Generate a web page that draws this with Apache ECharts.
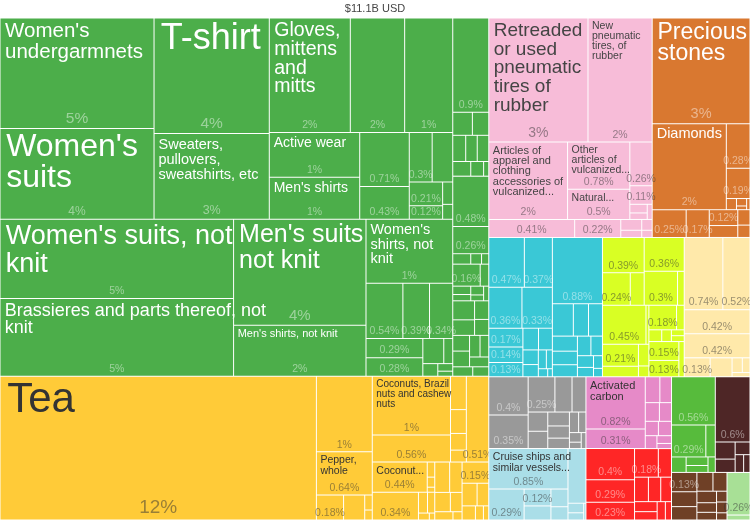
<!DOCTYPE html>
<html>
<head>
<meta charset="utf-8">
<title>Export treemap</title>
<script src="https://cdn.jsdelivr.net/npm/echarts@6/dist/echarts.min.js"></script>
<style>
html, body { margin: 0; padding: 0; background: #ffffff; }
#chart { width: 750px; height: 520px; }
</style>
</head>
<body>
<div id="chart"></div>
<script>
// ================= DATA (shares of total exports, %) =================
const totalLabel = '$11.1B USD';

// ---- Textiles ----
const knitApparel = [
  ["Women's undergarmnets", 4.51], ["Women's suits", 3.71], ["T-shirt", 3.53],
  ["Sweaters, pullovers, sweatshirts, etc", 2.62], ["Gloves, mittens and mitts", 2.46],
  ["Babies' garments", 1.65], ["Women's shirts", 1.46], ["Active wear", 1.07], ["Men's shirts", 1.01],
  ["Men's undergarments", 0.71], ["Socks and hosiery", 0.43], ["Knit men's suits", 0.30],
  ["Knit women's coats", 0.27], ["Knit sports garments", 0.21], ["Knit clothing accessories", 0.12],
  ["Knit men's coats", 0.06], ["Other knit garments", 0.04]
];
const nonKnitApparel = [
  ["Women's suits, not knit", 4.91], ["Brassieres and parts thereof, not knit", 4.81],
  ["Men's suits, not knit", 3.72], ["Men's shirts, not knit", 1.79], ["Women's shirts, not knit", 1.47],
  ["Women's undergarments, not knit", 0.54], ["Men's coats, not knit", 0.39], ["Women's coats, not knit", 0.34],
  ["Babies' garments, not knit", 0.29], ["Other garments, not knit", 0.28], ["Men's undergarments, not knit", 0.14],
  ["Handkerchiefs", 0.06], ["Shawls and scarves", 0.05], ["Ties", 0.03], ["Other clothing accessories", 0.02]
];
const madeUpTextiles = [["House linens", 0.90], ["Other made up articles", 0.12], ["Tarpaulins and tents", 0.10], ["Blankets", 0.09], ["Used clothing", 0.08], ["Curtains", 0.08], ["Sacks and bags", 0.07], ["Bed linen", 0.05], ["Dust cloths", 0.02]];
const knitFabrics = [["Knit fabric", 0.48], ["Light rubberized knitted fabric", 0.26], ["Warp knit fabric", 0.05], ["Other knit fabric", 0.03], ["Narrow knit fabric", 0.02]];
const pileFabrics = [["Pile fabric", 0.16], ["Terry fabric", 0.05], ["Tulle", 0.04], ["Knitted lace", 0.03], ["Velvet", 0.03], ["Chenille", 0.02], ["Gauze", 0.02]];
const fabricsAndYarn = [["Woven cotton fabric", 0.11], ["Cotton yarn", 0.09], ["Labels", 0.07], ["Narrow woven fabric", 0.06]];
const specialFabrics = [["Synthetic woven fabric", 0.07], ["Non-woven textiles", 0.07], ["Elastic fabric", 0.06], ["Coated textile fabric", 0.05], ["Embroidery", 0.05]];
const yarns = [["Synthetic filament yarn", 0.05], ["Felt", 0.04]];

// ---- Vegetable products ----
const spices = [["Tea", 12.06], ["Cinnamon", 1.12], ["Pepper, whole", 0.64], ["Cloves", 0.18], ["Nutmeg, mace and cardamoms", 0.14], ["Coffee", 0.03], ["Ginger", 0.02]];
const fruitsAndNuts = [["Coconuts, Brazil nuts and cashew nuts", 1.22], ["Tropical fruits", 0.56], ["Bananas", 0.14], ["Citrus", 0.10], ["Other nuts", 0.07], ["Other fruits", 0.05]];
const saps = [["Vegetable saps and extracts", 0.51]];
const plantFibres = [["Coconut and other vegetable fibers", 0.44], ["Bamboo", 0.03], ["Rattans", 0.02], ["Vegetable hair", 0.01]];
const liveTrees = [["Cut flowers", 0.34], ["Live plants", 0.05], ["Foliage", 0.04], ["Bulbs", 0.02], ["Seeds for sowing", 0.01]];
const otherVegetables = [["Vegetable products n.e.c.", 0.15], ["Roots and tubers", 0.09], ["Leguminous vegetables", 0.07], ["Other vegetables", 0.05], ["Dried vegetables", 0.03], ["Onions", 0.02]];
const cerealsAndSeeds = [["Rice", 0.12], ["Medicinal plants", 0.10], ["Oil seeds", 0.08], ["Flours", 0.06], ["Malt", 0.04], ["Starches", 0.02]];

// ---- Plastics and rubbers ----
const rubberGoods = [["Retreaded or used pneumatic tires of rubber", 3.26], ["New pneumatic tires, of rubber", 2.11], ["Articles of apparel and clothing accessories of vulcanized rubber", 1.62], ["Other articles of vulcanized rubber", 0.78], ["Natural rubber, balata and gutta-percha", 0.50], ["Rubber belts", 0.26], ["Rubber tubes", 0.11], ["Rubber sheets", 0.04], ["Rubber thread", 0.03], ["Inner tubes", 0.02]];
const plasticGoods = [["Plastic housewares", 0.41], ["Plastic lids", 0.22], ["Other plastic products", 0.06], ["Plastic pipes", 0.04], ["Plastic sheets", 0.03], ["Plastic floor coverings", 0.02]];

// ---- Precious metals ----
const preciousStones = [["Precious stones", 2.74]];
const diamondsAndJewellery = [["Diamonds", 1.69], ["Jewellery", 0.28], ["Imitation jewellery", 0.19], ["Gold", 0.03], ["Silver", 0.02], ["Pearls", 0.01], ["Platinum", 0.01]];
const otherPrecious = [["Synthetic precious stones", 0.25], ["Precious metal scraps", 0.17], ["Gold or silversmiths' wares", 0.12], ["Other precious stone articles", 0.09], ["Coin", 0.05], ["Precious metal compounds", 0.04]];

// ---- Machines ----
const electricalGoods = [["Insulated wire", 0.47], ["Electric motors", 0.37], ["Electrical transformers", 0.36], ["Low-voltage protection equipment", 0.33], ["Electrical control boards", 0.17], ["Electric filament", 0.14], ["Integrated circuits", 0.13], ["Batteries", 0.09], ["Electric heaters", 0.08], ["Printed circuit boards", 0.06], ["Electrical parts", 0.05], ["Telephones", 0.04], ["Capacitors", 0.03], ["Resistors", 0.02], ["Lighting fixtures", 0.01]];
const machinery = [["Industrial machinery", 0.88], ["Machinery parts", 0.18], ["Pumps", 0.13], ["Valves", 0.12], ["Air pumps", 0.10], ["Centrifuges", 0.09], ["Sewing machines", 0.08], ["Office machine parts", 0.07], ["Computers", 0.06], ["Ball bearings", 0.05], ["Textile machinery", 0.04], ["Engine parts", 0.03], ["Transmissions", 0.02]];

// ---- Paper goods ----
const paperA = [["Paper labels", 0.39], ["Paper containers", 0.24], ["Cartons", 0.12]];
const paperB = [["Printed materials", 0.36], ["Paper notebooks", 0.30], ["Wallpaper", 0.06]];
const paperC = [["Toilet paper", 0.45], ["Coated paper", 0.03]];
const paperE = [["Uncoated paper", 0.21], ["Paper pulp", 0.10], ["Paper trays", 0.06], ["Filter paper", 0.03]];
const paperD = [["Recovered paper", 0.18], ["Paper envelopes", 0.05], ["Calendars", 0.04], ["Postcards", 0.03], ["Maps", 0.02], ["Newspapers", 0.02]];
const woodG = [["Wood articles", 0.15], ["Wooden frames", 0.13], ["Plywood", 0.05]];

// ---- Foodstuffs ----
const foodTop = [["Animal feed", 0.74], ["Coconut oil", 0.52]];
const foodPair = [["Other edible preparations", 0.42], ["Non-alcoholic beverages", 0.42]];
const foodSmall = [["Fruit juice", 0.13], ["Tobacco", 0.11], ["Sauces", 0.04], ["Baked goods", 0.03], ["Vinegar", 0.02]];

// ---- Transportation ----
const cruiseShips = [["Cruise ships and similar vessels", 0.85]];
const boatsEtc = [["Boats", 0.29], ["Bicycles", 0.12], ["Trailers", 0.10], ["Aircraft parts", 0.08], ["Motorcycles", 0.06]];
const vehiclesEtc = [["Vehicle parts", 0.26], ["Tugs", 0.04], ["Tractors", 0.03], ["Railway parts", 0.01]];

// ---- Other sections ----
const metalGoods = [["Copper wire", 0.40], ["Aluminium structures", 0.35], ["Iron structures", 0.25], ["Scrap copper", 0.16], ["Scrap aluminium", 0.13], ["Hand tools", 0.10], ["Iron pipes", 0.09], ["Metal fasteners", 0.08], ["Scrap iron", 0.07], ["Metal mountings", 0.06], ["Aluminium foil", 0.05], ["Knives", 0.04], ["Locks", 0.03], ["Iron wire", 0.02], ["Nails", 0.02]];
const chemicalGoods = [["Activated carbon", 0.82], ["Essential oils", 0.31], ["Medicaments", 0.10], ["Soap", 0.08], ["Paints", 0.07], ["Perfumes", 0.06], ["Beauty products", 0.05], ["Glues", 0.05], ["Pesticides", 0.04], ["Inks", 0.03], ["Fertilizers", 0.02]];
const instrumentGoods = [["Medical instruments", 0.40], ["Orthopedic appliances", 0.29], ["Optical fibers", 0.23], ["Lenses", 0.18], ["Electrical meters", 0.10], ["Thermostats", 0.09], ["Measuring instruments", 0.08], ["Watches", 0.07], ["Spectacles", 0.06], ["X-ray equipment", 0.05], ["Clocks", 0.04], ["Gauges", 0.03]];
const animalGoods = [["Crustaceans", 0.56], ["Fish fillets", 0.29], ["Non-fillet fresh fish", 0.08], ["Molluscs", 0.06], ["Dried fish", 0.05], ["Eggs", 0.04], ["Milk", 0.03]];
const mineralGoods = [["Refined petroleum", 0.60], ["Graphite", 0.09], ["Ilmenite", 0.07], ["Quartz", 0.05], ["Mica", 0.04], ["Salt", 0.03]];
const hideGoods = [["Handbags", 0.13], ["Leather articles", 0.10], ["Saddlery", 0.09], ["Tanned leather", 0.08], ["Raw hides", 0.07], ["Leather apparel", 0.06], ["Furskins", 0.05], ["Travel goods", 0.04], ["Watch straps", 0.03], ["Leather belts", 0.03], ["Leather scraps", 0.02]];
const footwearGoods = [["Footwear", 0.26], ["Hats", 0.03]];

// ---- Hierarchy: section -> chapter -> product ----
const textiles = [["Knit apparel", knitApparel], ["Non-knit apparel", nonKnitApparel], ["Other made up textiles", madeUpTextiles], ["Knit fabrics", knitFabrics], ["Pile fabrics", pileFabrics], ["Fabrics and yarn", fabricsAndYarn], ["Special fabrics", specialFabrics], ["Yarns", yarns]];
const vegetableProducts = [["Coffee, tea and spices", spices], ["Fruits and nuts", fruitsAndNuts], ["Saps and extracts", saps], ["Plaiting materials", plantFibres], ["Live trees and plants", liveTrees], ["Vegetables", otherVegetables], ["Cereals and seeds", cerealsAndSeeds]];
const plasticsAndRubbers = [["Rubber", rubberGoods], ["Plastics", plasticGoods]];
const preciousMetals = [["Stones", preciousStones], ["Diamonds and jewellery", diamondsAndJewellery], ["Other precious goods", otherPrecious]];
const machines = [["Electrical machinery", electricalGoods], ["Machinery", machinery]];
const paperGoods = [["Paper A", paperA], ["Paper B", paperB], ["Paper C", paperC], ["Paper E", paperE], ["Paper D", paperD], ["Wood G", woodG]];
const foodstuffs = [["Food top", foodTop], ["Food bottom", [["Food pair", foodPair], ["Food small", foodSmall]]]];
const transportation = [["Ships and boats", [["Cruise ships", cruiseShips], ["Boats and cycles", boatsEtc]]], ["Vehicles", vehiclesEtc]];

const sections = [
  ["Textiles", textiles], ["Vegetable Products", vegetableProducts], ["Plastics and Rubbers", plasticsAndRubbers],
  ["Precious Metals", preciousMetals], ["Machines", machines], ["Paper Goods", paperGoods], ["Foodstuffs", foodstuffs],
  ["Metals", metalGoods], ["Transportation", transportation], ["Chemical Products", chemicalGoods],
  ["Instruments", instrumentGoods], ["Animal Products", animalGoods], ["Mineral Products", mineralGoods],
  ["Animal Hides", hideGoods], ["Footwear and Headwear", footwearGoods]
];

// ================= STYLES =================
const FONT = '"Liberation Sans", Arial, Helvetica, sans-serif';
const LIGHT_PCT = 'rgba(255,255,255,0.45)';
const DARK_PCT = 'rgba(51,51,51,0.5)';
// [fill, name colour, share colour]
const sectionStyle = {
  "Textiles": ['#4cae4a', '#ffffff', LIGHT_PCT],
  "Vegetable Products": ['#ffcb38', '#333333', DARK_PCT],
  "Plastics and Rubbers": ['#f7bcd8', '#444444', DARK_PCT],
  "Precious Metals": ['#d97830', '#ffffff', LIGHT_PCT],
  "Machines": ['#3ac8d6', '#ffffff', LIGHT_PCT],
  "Paper Goods": ['#d9ff24', '#333333', DARK_PCT],
  "Foodstuffs": ['#ffe9aa', '#333333', DARK_PCT],
  "Metals": ['#999999', '#ffffff', LIGHT_PCT],
  "Transportation": ['#aadee8', '#333333', DARK_PCT],
  "Chemical Products": ['#e68ac8', '#333333', DARK_PCT],
  "Instruments": ['#ff2626', '#ffffff', LIGHT_PCT],
  "Animal Products": ['#57bb3c', '#ffffff', LIGHT_PCT],
  "Mineral Products": ['#4e2626', '#ffffff', LIGHT_PCT],
  "Animal Hides": ['#6f4026', '#ffffff', LIGHT_PCT],
  "Footwear and Headwear": ['#a8e096', '#333333', DARK_PCT]
};
// name label: [displayed text, font size, line height]
const nameLabels = {
  "Women's undergarmnets": ["Women's\nundergarmnets", 20.5, 20.5],
  "Women's suits": ["Women's\nsuits", 32, 31],
  "T-shirt": ["T-shirt", 36, 36],
  "Sweaters, pullovers, sweatshirts, etc": ["Sweaters,\npullovers,\nsweatshirts, etc", 14.5, 15],
  "Gloves, mittens and mitts": ["Gloves,\nmittens\nand\nmitts", 19.5, 18.7],
  "Active wear": ["Active wear", 14, 14],
  "Men's shirts": ["Men's shirts", 14, 14],
  "Women's suits, not knit": ["Women's suits, not\nknit", 27, 28],
  "Brassieres and parts thereof, not knit": ["Brassieres and parts thereof, not\nknit", 18, 17.3],
  "Men's suits, not knit": ["Men's suits\nnot knit", 25, 25.5],
  "Men's shirts, not knit": ["Men's shirts, not knit", 11, 11],
  "Women's shirts, not knit": ["Women's\nshirts, not\nknit", 14.5, 14.5],
  "Tea": ["Tea", 42, 42],
  "Coconuts, Brazil nuts and cashew nuts": ["Coconuts, Brazil\nnuts and cashew\nnuts", 10, 9.7],
  "Coconut and other vegetable fibers": ["Coconut...", 10.5, 10.5],
  "Pepper, whole": ["Pepper,\nwhole", 10.5, 10.5],
  "Retreaded or used pneumatic tires of rubber": ["Retreaded\nor used\npneumatic\ntires of\nrubber", 19, 18.7],
  "New pneumatic tires, of rubber": ["New\npneumatic\ntires, of\nrubber", 10.5, 10],
  "Articles of apparel and clothing accessories of vulcanized rubber": ["Articles of\napparel and\nclothing\naccessories of\nvulcanized...", 11, 10.4],
  "Other articles of vulcanized rubber": ["Other\narticles of\nvulcanized...", 10.5, 10],
  "Natural rubber, balata and gutta-percha": ["Natural...", 10.5, 10.5],
  "Precious stones": ["Precious\nstones", 23, 21.7],
  "Diamonds": ["Diamonds", 14.5, 14.5],
  "Activated carbon": ["Activated\ncarbon", 11, 11],
  "Cruise ships and similar vessels": ["Cruise ships and\nsimilar vessels...", 10.5, 10.5]
};
const pctSizes = {
  "Women's undergarmnets": 15.5, "T-shirt": 15.5, "Women's suits": 12,
  "Sweaters, pullovers, sweatshirts, etc": 12.5, "Tea": 19, "Men's suits, not knit": 15,
  "Retreaded or used pneumatic tires of rubber": 14, "Precious stones": 14.5
};

// ================= BUILD =================
function sumLeaves(list) {
  return list.reduce((s, e) => s + (typeof e[1] === 'number' ? e[1] : sumLeaves(e[1])), 0);
}
const TOTAL = sections.reduce((s, sec) => s + sumLeaves(sec[1]), 0);

function pctValue(v) { return v / TOTAL * 100; }
function pctText(v) {
  const p = pctValue(v);
  return p >= 1 ? Math.round(p) + '%' : parseFloat(p.toFixed(2)) + '%';
}

let keyCounter = 0;
function buildNode(entry, sec, mode, sizes) {
  const name = entry[0], v = entry[1];
  const st = sectionStyle[sec];
  if (typeof v === 'number') {
    const key = 'k' + (keyCounter++);
    const item = { name: name, value: v, key: key };
    if (mode === 'cells') {
      item.itemStyle = { borderWidth: 0.5, borderColor: '#ffffff' };
      const nl = nameLabels[name];
      if (nl) {
        const fs = nl[1];
        item.label = {
          show: true, position: 'insideTopLeft', distance: 0, formatter: nl[0],
          fontSize: fs, lineHeight: nl[2], color: st[1], fontFamily: FONT,
          padding: [3, 0, 0, 2.5 + fs * 0.1], overflow: 'none'
        };
      } else {
        item.label = { show: false };
      }
    } else {
      const lay = sizes ? sizes[key] : null;
      const fs = pctSizes[name] || 10.5;
      const show = !!lay && lay.width >= 22 && lay.height >= 12 && pctValue(v) >= 0.105;
      item.label = {
        show: show, position: 'insideBottom', distance: 1 + fs * 0.08, formatter: pctText(v),
        fontSize: fs, lineHeight: fs, color: st[2], fontFamily: FONT, padding: 0, overflow: 'none'
      };
    }
    return item;
  }
  return { name: name, children: v.map(e => buildNode(e, sec, mode, sizes)) };
}

function buildData(mode, sizes) {
  keyCounter = 0;
  return sections.map(sec => {
    const node = buildNode(sec, sec[0], mode, sizes);
    if (mode === 'cells') node.itemStyle = { color: sectionStyle[sec[0]][0] };
    return node;
  });
}

function baseSeries() {
  return {
    type: 'treemap', left: 0, top: 18, width: 750, height: 502,
    roam: false, nodeClick: false, breadcrumb: { show: false },
    sort: 'desc', squareRatio: 0.5 * (1 + Math.sqrt(5)), visibleMin: 1,
    silent: true, animation: false,
    upperLabel: { show: false }, label: { show: false },
    emphasis: { disabled: true }
  };
}

function makeOption(sizes) {
  const cells = Object.assign(baseSeries(), {
    itemStyle: { borderWidth: 0, gapWidth: 0, borderColor: '#ffffff' },
    data: buildData('cells', null)
  });
  const shares = Object.assign(baseSeries(), {
    color: ['rgba(0,0,0,0)'],
    itemStyle: { color: 'rgba(0,0,0,0)', borderWidth: 0, gapWidth: 0, borderColor: 'rgba(0,0,0,0)' },
    data: buildData('shares', sizes)
  });
  return {
    animation: false,
    backgroundColor: '#ffffff',
    title: {
      text: totalLabel, left: 'center', top: 0, padding: [3, 0, 0, 0],
      textStyle: { fontSize: 11, fontWeight: 'normal', color: '#444444', fontFamily: FONT }
    },
    series: [cells, shares]
  };
}

const chart = echarts.init(document.getElementById('chart'), null, { renderer: 'canvas' });
chart.setOption(makeOption(null));

// read the layout computed by the library to decide which cells can hold a share label
const sizes = {};
try {
  const tree = chart.getModel().getSeriesByIndex(0).getData().tree;
  tree.eachNode(function (node) {
    if (node.children && node.children.length) return;
    const lay = node.getLayout();
    const key = node.getModel().get('key');
    if (lay && key != null) sizes[key] = { width: lay.width, height: lay.height };
  });
} catch (e) { console.error(e); }
chart.setOption(makeOption(sizes), true);
</script>
</body>
</html>
